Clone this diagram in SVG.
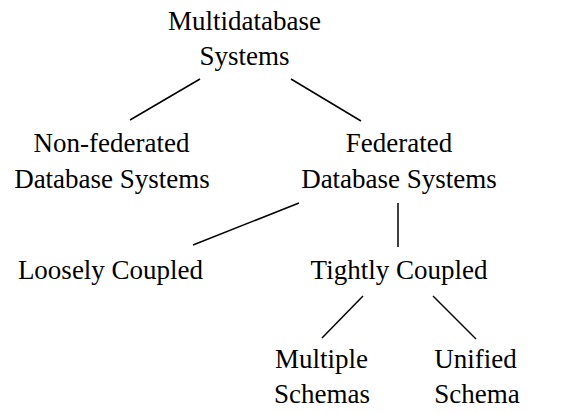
<svg xmlns="http://www.w3.org/2000/svg" width="580" height="413" viewBox="0 0 580 413">
<style>
text{font-family:"Liberation Serif","Times New Roman",serif;font-size:27px;fill:#000;text-anchor:middle}
line{stroke:#000;stroke-width:1.5}
</style>
<rect width="580" height="413" fill="#fff"/>
<g id="connectors">
<line x1="200" y1="79" x2="130" y2="120"/>
<line x1="291" y1="79" x2="361" y2="121"/>
<line x1="299" y1="203" x2="193" y2="245"/>
<line x1="398" y1="203" x2="398" y2="247"/>
<line x1="363" y1="296" x2="322" y2="338"/>
<line x1="433" y1="296" x2="476" y2="339"/>
</g>
<g id="multidatabase"><text x="244.5" y="30">Multidatabase</text><text x="244.5" y="65">Systems</text></g>
<g id="nonfederated"><text x="111.5" y="152">Non-federated</text><text x="112" y="188">Database Systems</text></g>
<g id="federated"><text x="399" y="152">Federated</text><text x="399" y="188">Database Systems</text></g>
<g id="loosely"><text x="110.5" y="279">Loosely Coupled</text></g>
<g id="tightly"><text x="399" y="279">Tightly Coupled</text></g>
<g id="multiple"><text x="321.5" y="368">Multiple</text><text x="322" y="403">Schemas</text></g>
<g id="unified"><text x="475.5" y="368">Unified</text><text x="477" y="403">Schema</text></g>
</svg>
